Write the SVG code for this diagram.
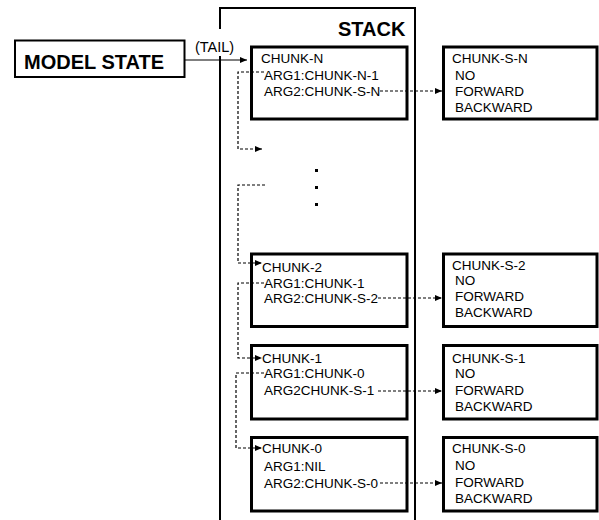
<svg xmlns="http://www.w3.org/2000/svg" width="599" height="520" viewBox="0 0 599 520">
<style>
text{font-family:"Liberation Sans",Arial,sans-serif;fill:#000}
.t{font-size:13.5px}
.b{font-size:20px;font-weight:bold}
.box{fill:#fff;stroke:#000;stroke-width:3}
.solid{fill:none;stroke:#000;stroke-width:1.2}
.dash{fill:none;stroke:#000;stroke-width:1.2;stroke-dasharray:3,2}
</style>
<defs>
<marker id="ah" markerUnits="userSpaceOnUse" markerWidth="8" markerHeight="8" viewBox="0 0 8 8" refX="7" refY="4" orient="auto">
<path d="M0,1 L7,4 L0,7 Z" fill="#000"/>
</marker>
</defs>
<g id="stack">
<path d="M220,520 V8 H415 V520" fill="none" stroke="#000" stroke-width="2"/>
<text class="b" x="338" y="36">STACK</text>
</g>
<g id="model-state">
<rect x="15" y="40.5" width="169.5" height="36.5" fill="#fff" stroke="#000" stroke-width="2"/>
<text class="b" x="24" y="69">MODEL STATE</text>
</g>
<g id="chunk-n">
<rect class="box" x="251.5" y="47" width="155.5" height="72"/>
<text class="t" x="261" y="63">CHUNK-N</text>
<text class="t" x="264" y="80">ARG1:CHUNK-N-1</text>
<text class="t" x="264" y="96">ARG2:CHUNK-S-N</text>
</g>
<g id="chunk-s-n">
<rect class="box" x="443.5" y="47" width="153.5" height="72"/>
<text class="t" x="452" y="63">CHUNK-S-N</text>
<text class="t" x="455" y="80">NO</text>
<text class="t" x="455" y="96">FORWARD</text>
<text class="t" x="455" y="112">BACKWARD</text>
</g>
<g id="dots">
<rect x="315" y="169" width="3" height="3"/>
<rect x="315" y="186" width="3" height="3"/>
<rect x="315" y="203" width="3" height="3"/>
</g>
<g id="chunk-2">
<rect class="box" x="251.5" y="254" width="155.5" height="72.5"/>
<text class="t" x="262" y="272">CHUNK-2</text>
<text class="t" x="264" y="288">ARG1:CHUNK-1</text>
<text class="t" x="264" y="303">ARG2:CHUNK-S-2</text>
</g>
<g id="chunk-s-2">
<rect class="box" x="443.5" y="254" width="153.5" height="72.5"/>
<text class="t" x="452" y="270">CHUNK-S-2</text>
<text class="t" x="455" y="285">NO</text>
<text class="t" x="455" y="301">FORWARD</text>
<text class="t" x="455" y="317">BACKWARD</text>
</g>
<g id="chunk-1">
<rect class="box" x="251.5" y="345.5" width="155.5" height="73.5"/>
<text class="t" x="262" y="363">CHUNK-1</text>
<text class="t" x="264" y="378">ARG1:CHUNK-0</text>
<text class="t" x="264" y="395">ARG2CHUNK-S-1</text>
</g>
<g id="chunk-s-1">
<rect class="box" x="443.5" y="345.5" width="153.5" height="73.5"/>
<text class="t" x="452" y="363">CHUNK-S-1</text>
<text class="t" x="455" y="378">NO</text>
<text class="t" x="455" y="395">FORWARD</text>
<text class="t" x="455" y="411">BACKWARD</text>
</g>
<g id="chunk-0">
<rect class="box" x="251.5" y="437.5" width="155.5" height="73.5"/>
<text class="t" x="262" y="453">CHUNK-0</text>
<text class="t" x="264" y="471">ARG1:NIL</text>
<text class="t" x="264" y="488">ARG2:CHUNK-S-0</text>
</g>
<g id="chunk-s-0">
<rect class="box" x="443.5" y="437.5" width="153.5" height="73.5"/>
<text class="t" x="452" y="453">CHUNK-S-0</text>
<text class="t" x="455" y="470">NO</text>
<text class="t" x="455" y="487">FORWARD</text>
<text class="t" x="455" y="503">BACKWARD</text>
</g>
<g id="connectors">
<path class="solid" d="M184.5,60 H247" marker-end="url(#ah)"/>
<rect x="193" y="29" width="44" height="27" fill="#fff"/>
<text class="t" x="195" y="52" style="font-size:14.5px">(TAIL)</text>
<path class="dash" d="M264,72 H238 V149 H262" marker-end="url(#ah)"/>
<path class="dash" d="M380,91 H442" marker-end="url(#ah)"/>
<path class="dash" d="M265,185 H238 V263 H262" marker-end="url(#ah)"/>
<path class="dash" d="M264,283 H238 V358 H262" marker-end="url(#ah)"/>
<path class="dash" d="M378,298 H442" marker-end="url(#ah)"/>
<path class="dash" d="M378,391 H442" marker-end="url(#ah)"/>
<path class="dash" d="M264,373 H236 V448 H262" marker-end="url(#ah)"/>
<path class="dash" d="M380,483 H442" marker-end="url(#ah)"/>
</g>
</svg>
